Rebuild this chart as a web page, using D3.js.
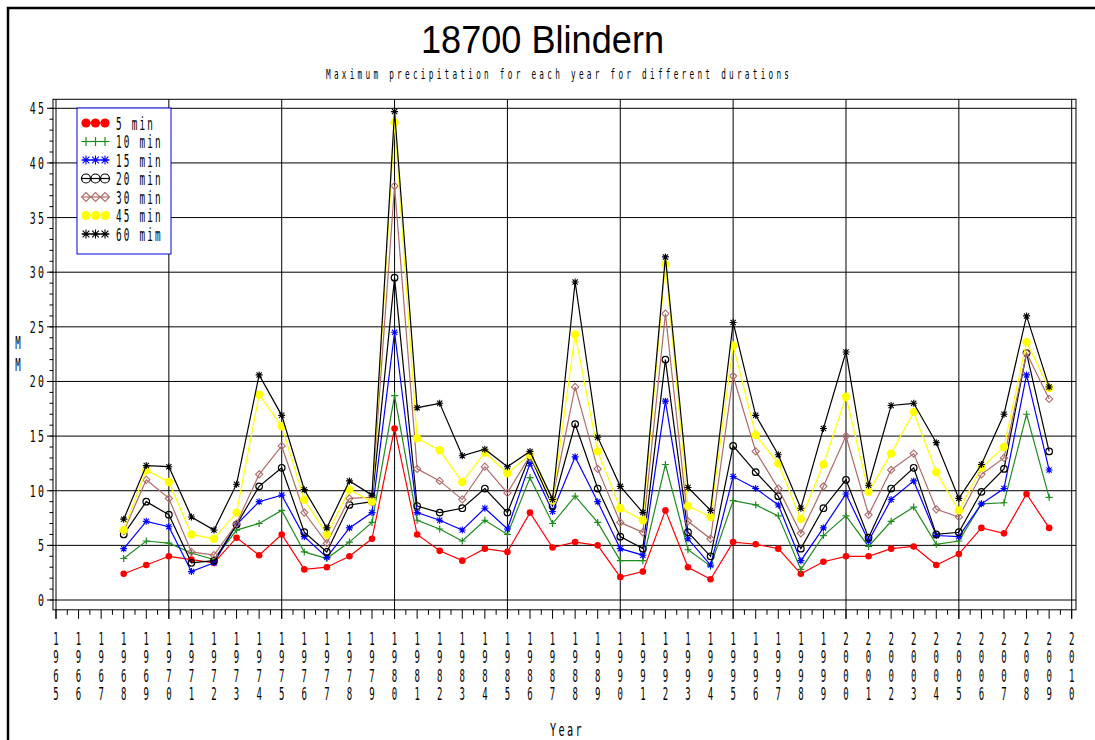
<!DOCTYPE html>
<html>
<head>
<meta charset="utf-8">
<script src="https://d3js.org/d3.v7.min.js"></script>
<style>
  body { margin: 0; background: #fff; }
  svg { display: block; }
</style>
</head>
<body>
<div id="chart"></div>
<script>
// ---- data ----
var years = [1968, 1969, 1970, 1971, 1972, 1973, 1974, 1975, 1976, 1977,
             1978, 1979, 1980, 1981, 1982, 1983, 1984, 1985, 1986, 1987,
             1988, 1989, 1990, 1991, 1992, 1993, 1994, 1995, 1996, 1997,
             1998, 1999, 2000, 2001, 2002, 2003, 2004, 2005, 2006, 2007,
             2008, 2009];

var min5  = [2.4, 3.2, 4.0, 3.7, 3.4, 5.7, 4.1, 6.0, 2.8, 3.0, 4.0, 5.6, 15.7, 6.0, 4.5, 3.6, 4.7, 4.4, 8.0, 4.8, 5.3, 5.0, 2.1, 2.6, 8.2, 3.0, 1.9, 5.3, 5.1, 4.7, 2.4, 3.5, 4.0, 4.0, 4.7, 4.9, 3.2, 4.2, 6.6, 6.1, 9.7, 6.6];
var min10 = [3.8, 5.4, 5.2, 4.3, 3.7, 6.4, 7.0, 8.2, 4.4, 3.8, 5.3, 7.1, 18.7, 7.3, 6.5, 5.4, 7.3, 6.0, 11.2, 7.0, 9.5, 7.1, 3.6, 3.6, 12.4, 4.6, 3.1, 9.1, 8.7, 7.7, 2.8, 5.9, 7.7, 4.9, 7.2, 8.5, 5.1, 5.4, 8.8, 8.9, 17.0, 9.4];
var min15 = [4.7, 7.2, 6.7, 2.6, 3.4, 6.9, 9.0, 9.6, 5.8, 3.9, 6.6, 8.0, 24.5, 8.0, 7.3, 6.4, 8.4, 6.5, 12.5, 8.1, 13.1, 9.0, 4.7, 4.1, 18.2, 5.6, 3.2, 11.3, 10.2, 8.7, 3.6, 6.6, 9.7, 5.4, 9.2, 10.9, 5.9, 5.8, 8.8, 10.2, 20.6, 11.9];
var min20 = [6.0, 9.0, 7.8, 3.4, 3.6, 6.9, 10.4, 12.1, 6.2, 4.4, 8.7, 9.0, 29.5, 8.6, 8.0, 8.4, 10.2, 8.0, 13.2, 8.6, 16.1, 10.2, 5.8, 4.7, 22.0, 6.2, 4.0, 14.1, 11.7, 9.5, 4.7, 8.4, 11.0, 5.7, 10.2, 12.1, 6.0, 6.2, 9.9, 12.0, 22.6, 13.6];
var min30 = [6.3, 11.0, 9.3, 4.4, 4.1, 7.0, 11.5, 14.1, 8.0, 5.2, 9.3, 9.4, 37.9, 12.0, 10.9, 9.2, 12.2, 9.8, 13.2, 9.3, 19.5, 12.0, 7.1, 6.2, 26.2, 7.2, 5.6, 20.5, 13.6, 10.2, 6.1, 10.4, 15.0, 7.8, 11.9, 13.4, 8.3, 7.6, 11.5, 13.0, 22.6, 18.4];
var min45 = [6.4, 11.9, 10.8, 6.0, 5.6, 8.0, 18.8, 15.9, 9.2, 6.0, 10.1, 9.0, 43.7, 14.8, 13.7, 10.8, 13.5, 11.6, 13.3, 9.1, 24.3, 13.6, 8.4, 7.3, 30.7, 8.6, 7.6, 23.3, 15.1, 12.5, 7.4, 12.4, 18.6, 9.9, 13.4, 17.2, 11.7, 8.2, 12.1, 14.0, 23.6, 19.4];
var min60 = [7.4, 12.3, 12.2, 7.6, 6.4, 10.6, 20.6, 16.9, 10.1, 6.6, 10.9, 9.6, 44.7, 17.6, 18.0, 13.2, 13.8, 12.2, 13.6, 9.2, 29.1, 14.9, 10.4, 8.0, 31.4, 10.3, 8.2, 25.4, 16.9, 13.3, 8.4, 15.7, 22.7, 10.5, 17.8, 18.0, 14.4, 9.3, 12.4, 17.0, 26.0, 19.5];

var seriesNames = ["5 min", "10 min", "15 min", "20 min", "30 min", "45 min", "60 mim"];
var seriesValues = [min5, min10, min15, min20, min30, min45, min60];

var yTicks = [0, 5, 10, 15, 20, 25, 30, 35, 40, 45];
var xTicks = d3.range(1965, 2011);

var title = "18700 Blindern";
var subtitle = "Maximum precipitation for each year for different durations";
var xTitle = "Year";
var yTitle = "MM";

// ---- look of each series ----
var looks = [
  {color: "#ff0000", marker: "dot",     r: 3.3},
  {color: "#1e8c1e", marker: "plus",    r: 3.5},
  {color: "#0000ff", marker: "star",    r: 3.5},
  {color: "#000000", marker: "circle",  r: 3.3},
  {color: "#b06a6a", marker: "diamond", r: 3.6},
  {color: "#ffff00", marker: "dot",     r: 4.2},
  {color: "#000000", marker: "star",    r: 3.5}
];

var W = 1095, H = 740;
var svg = d3.select("#chart").append("svg")
  .attr("width", W)
  .attr("height", H);

var x = d3.scaleLinear().domain([1965, 2010]).range([56, 1071.7]);
var y = d3.scaleLinear().domain([0, 45]).range([600, 108.3]);

var frame = {left: 53, top: 99.3, right: 1076, bottom: 609.8};

// tall narrow plotter font
function narrow(parent, str, px, py, anchor, spacing, size, sx) {
  return parent.append("text")
    .attr("transform", "translate(" + px + "," + py + ") scale(" + (sx || 0.6) + ",1)")
    .attr("font-family", "DejaVu Sans Mono, monospace")
    .attr("font-size", size || 16)
    .attr("letter-spacing", spacing == null ? 4 : spacing)
    .attr("text-anchor", anchor || "start")
    .attr("fill", "#000")
    .text(str);
}

// a column of characters, one per line, in a single text element
function column(parent, str, px, py, step) {
  var t = parent.append("text")
    .attr("transform", "translate(" + px + ",0) scale(0.5,1)")
    .attr("font-family", "DejaVu Sans Mono, monospace")
    .attr("font-size", 18)
    .attr("text-anchor", "middle")
    .attr("fill", "#000");
  str.split("").forEach(function(ch, i) {
    t.append("tspan").attr("x", 0).attr("y", py + i * step).text(ch);
  });
  return t;
}

// outer border of the page
svg.append("path")
  .attr("d", "M8," + (H + 5) + "V8H" + (W + 5))
  .attr("fill", "none")
  .attr("stroke", "#000")
  .attr("stroke-width", 2.5);

// titles
svg.append("text")
  .attr("x", 421).attr("y", 53)
  .attr("font-family", "Liberation Sans, Arial, sans-serif")
  .attr("font-size", 38)
  .attr("textLength", 243)
  .attr("lengthAdjust", "spacingAndGlyphs")
  .text(title);

svg.append("text")
  .attr("transform", "translate(326,79) scale(0.55,1.05)")
  .attr("font-family", "DejaVu Sans Mono, monospace")
  .attr("font-size", 14)
  .attr("textLength", 463 / 0.55)
  .attr("lengthAdjust", "spacing")
  .text(subtitle);

////////// grid + axes //////////
var grid = svg.append("g").attr("stroke", "#000").attr("stroke-width", 1).attr("fill", "none");

grid.selectAll(".hg")
  .data(yTicks)
  .enter().append("line")
    .attr("x1", 47).attr("x2", frame.right)
    .attr("y1", function(d) { return y(d); })
    .attr("y2", function(d) { return y(d); });

grid.selectAll(".vg")
  .data(xTicks.filter(function(d) { return d % 5 == 0; }))
  .enter().append("line")
    .attr("y1", frame.top).attr("y2", frame.bottom + 9)
    .attr("x1", function(d) { return x(d); })
    .attr("x2", function(d) { return x(d); });

grid.append("rect")
  .attr("x", frame.left).attr("y", frame.top)
  .attr("width", frame.right - frame.left)
  .attr("height", frame.bottom - frame.top);

// minor y ticks, one per mm
grid.selectAll(".ym")
  .data(d3.range(0, 46))
  .enter().append("line")
    .attr("x1", 49.5).attr("x2", frame.left)
    .attr("y1", function(d) { return y(d); })
    .attr("y2", function(d) { return y(d); });

// x ticks: long on years, short on half years
grid.selectAll(".xt")
  .data(d3.range(1965, 2010.01, 0.5))
  .enter().append("line")
    .attr("y1", frame.bottom)
    .attr("y2", function(d) { return d % 1 == 0 ? frame.bottom + 9 : frame.bottom + 5; })
    .attr("x1", function(d) { return x(d); })
    .attr("x2", function(d) { return x(d); });

// y labels
yTicks.forEach(function(v) {
  narrow(svg, String(v), 44 + 2.4, y(v) + 6, "end", 4, 16.5);
});

// x labels, digits stacked
xTicks.forEach(function(yr) {
  column(svg, String(yr), x(yr), 645, 18.5);
});

column(svg, yTitle, 18, 349, 22);
narrow(svg, xTitle, 550, 736, "start", 4, 17);

////////// series //////////
function marker(g, kind, color, r) {
  if (kind == "dot") {
    g.append("circle").attr("r", r).attr("fill", color);
  } else if (kind == "circle") {
    g.append("circle").attr("r", r).attr("fill", "none").attr("stroke", color).attr("stroke-width", 1.2);
  } else if (kind == "plus") {
    g.append("path").attr("d", "M" + (-r) + ",0H" + r + "M0," + (-r) + "V" + r)
      .attr("stroke", color).attr("stroke-width", 1.2);
  } else if (kind == "star") {
    var k = r * 0.75;
    g.append("path")
      .attr("d", "M" + (-r) + ",0H" + r + "M0," + (-r) + "V" + r +
                 "M" + (-k) + "," + (-k) + "L" + k + "," + k +
                 "M" + (-k) + "," + k + "L" + k + "," + (-k))
      .attr("stroke", color).attr("stroke-width", 1.1);
  } else if (kind == "diamond") {
    g.append("path").attr("d", "M0," + (-r) + "L" + r + ",0L0," + r + "L" + (-r) + ",0Z")
      .attr("fill", "none").attr("stroke", color).attr("stroke-width", 1.1);
  }
}

var line = d3.line()
  .x(function(d) { return x(d.year); })
  .y(function(d) { return y(d.value); });

var plot = svg.append("g");

seriesValues.forEach(function(vals, si) {
  var look = looks[si];
  var pts = years.map(function(yr, i) { return {year: yr, value: vals[i]}; });
  plot.append("path")
    .datum(pts)
    .attr("d", line)
    .attr("fill", "none")
    .attr("stroke", look.color)
    .attr("stroke-width", 1.2);
  pts.forEach(function(p) {
    var g = plot.append("g").attr("transform", "translate(" + x(p.year) + "," + y(p.value) + ")");
    marker(g, look.marker, look.color, look.r);
  });
});

////////// legend //////////
var legend = svg.append("g");
legend.append("rect")
  .attr("x", 77).attr("y", 108)
  .attr("width", 94).attr("height", 146)
  .attr("fill", "#fff")
  .attr("stroke", "#0000dd")
  .attr("stroke-width", 1);

seriesNames.forEach(function(name, i) {
  var look = looks[i];
  var ry = 123 + i * 18.5;
  legend.append("line")
    .attr("x1", 82).attr("x2", 109)
    .attr("y1", ry).attr("y2", ry)
    .attr("stroke", look.color)
    .attr("stroke-width", 1.2);
  [86, 95.5, 105].forEach(function(mx) {
    var g = legend.append("g").attr("transform", "translate(" + mx + "," + ry + ")");
    marker(g, look.marker, look.color, look.marker == "dot" ? 4.6 : 4.5);
  });
  narrow(legend, name, 116, ry + 6.5, "start", 4, 17, 0.55);
});
</script>
</body>
</html>
